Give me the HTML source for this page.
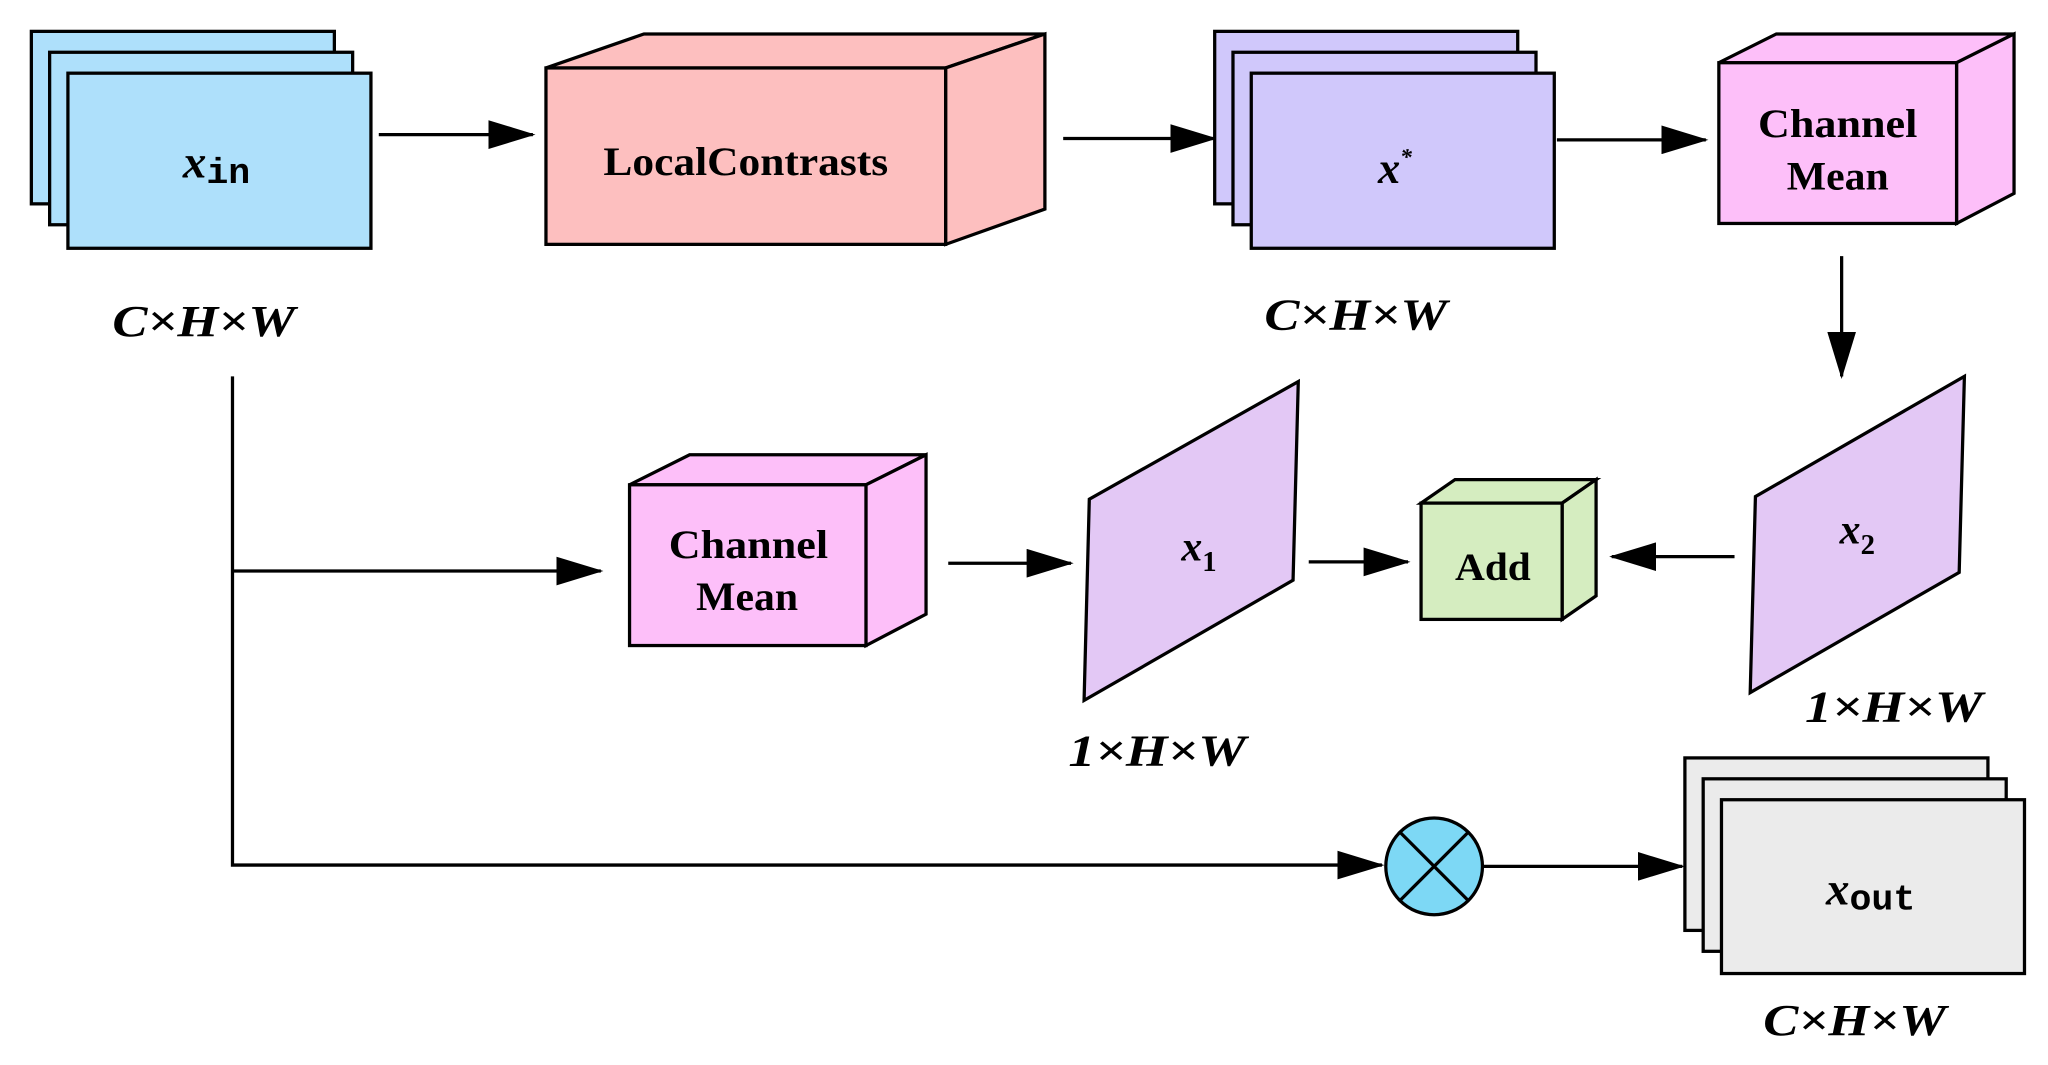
<!DOCTYPE html>
<html><head><meta charset="utf-8"><style>
html,body{margin:0;padding:0;background:#fff;}
svg{display:block;}
text{font-family:"Liberation Serif",serif;font-weight:bold;fill:#000;}
.it{font-style:italic;}
</style></head><body>
<svg width="2048" height="1065" viewBox="0 0 1568 815" preserveAspectRatio="none" xmlns="http://www.w3.org/2000/svg">
<defs>
<marker id="a" markerWidth="36" markerHeight="22" refX="34" refY="11" orient="auto" markerUnits="userSpaceOnUse">
<path d="M0,0 L36,11 L0,22 Z" fill="#000"/></marker>
</defs>
<g stroke="#000" stroke-width="2.5">
<rect x="24" y="24" width="232" height="132" fill="#aee0fb"/>
<rect x="38" y="40" width="232" height="132" fill="#aee0fb"/>
<rect x="52" y="56" width="232" height="134" fill="#aee0fb"/>
<line x1="290" y1="103" x2="408" y2="103" marker-end="url(#a)"/>
<polygon points="418,52 493,26 800,26 724,52" fill="#fdbfbf"/>
<polygon points="724,52 800,26 800,160 724,187" fill="#fdbfbf"/>
<rect x="418" y="52" width="306" height="135" fill="#fdbfbf"/>
<line x1="814" y1="106" x2="930" y2="106" marker-end="url(#a)"/>
<rect x="930" y="24" width="232" height="132" fill="#d0c8fb"/>
<rect x="944" y="40" width="232" height="132" fill="#d0c8fb"/>
<rect x="958" y="56" width="232" height="134" fill="#d0c8fb"/>
<line x1="1192" y1="107" x2="1306" y2="107" marker-end="url(#a)"/>
<polygon points="1316,48 1360,26 1542,26 1498,48" fill="#fdbff9"/>
<polygon points="1498,48 1542,26 1542,148 1498,171" fill="#fdbff9"/>
<rect x="1316" y="48" width="182" height="123" fill="#fdbff9"/>
<line x1="1410" y1="196" x2="1410" y2="288" marker-end="url(#a)"/>
<polygon points="1344,380 1504,288 1500,438 1340,530" fill="#e3c8f5"/>
<line x1="1328" y1="426" x2="1234" y2="426" marker-end="url(#a)"/>
<polygon points="1088,385 1114,367 1222,367 1196,385" fill="#d5edc0"/>
<polygon points="1196,385 1222,367 1222,456 1196,474" fill="#d5edc0"/>
<rect x="1088" y="385" width="108" height="89" fill="#d5edc0"/>
<line x1="1002" y1="430" x2="1078" y2="430" marker-end="url(#a)"/>
<polygon points="834,382 994,292 990,444 830,536" fill="#e3c8f5"/>
<line x1="726" y1="431" x2="820" y2="431" marker-end="url(#a)"/>
<polygon points="482,371 528,348 709,348 663,371" fill="#fdbff9"/>
<polygon points="663,371 709,348 709,470 663,494" fill="#fdbff9"/>
<rect x="482" y="371" width="181" height="123" fill="#fdbff9"/>
<polyline points="178,288 178,662 1058,662" fill="none" marker-end="url(#a)"/>
<line x1="178" y1="437" x2="460" y2="437" marker-end="url(#a)"/>
<circle cx="1098" cy="663" r="37" fill="#7dd8f5"/>
<line x1="1072" y1="637" x2="1124" y2="689"/>
<line x1="1124" y1="637" x2="1072" y2="689"/>
<line x1="1136" y1="663" x2="1288" y2="663" marker-end="url(#a)"/>
<rect x="1290" y="580" width="232" height="132" fill="#ebebeb"/>
<rect x="1304" y="596" width="232" height="132" fill="#ebebeb"/>
<rect x="1318" y="612" width="232" height="133" fill="#ebebeb"/>
</g>
<text x="140" y="136" font-size="36"><tspan class="it">x</tspan><tspan font-family="Liberation Mono,monospace" font-size="28" dy="4">in</tspan></text>
<text x="86" y="257" font-size="34" class="it" textLength="140" lengthAdjust="spacingAndGlyphs">C×H×W</text>
<text x="462" y="134" font-size="31" textLength="218" lengthAdjust="spacingAndGlyphs">LocalContrasts</text>
<text x="1068" y="140" font-size="34" text-anchor="middle" class="it">x<tspan font-size="18" dy="-14">*</tspan></text>
<text x="968" y="252" font-size="34" class="it" textLength="140" lengthAdjust="spacingAndGlyphs">C×H×W</text>
<text x="1346" y="105" font-size="31" textLength="122" lengthAdjust="spacingAndGlyphs">Channel</text>
<text x="1368" y="145" font-size="31" textLength="78" lengthAdjust="spacingAndGlyphs">Mean</text>
<text x="1422" y="416" font-size="32" text-anchor="middle" class="it">x<tspan font-size="22" dy="8" font-style="normal">2</tspan></text>
<text x="1382" y="552" font-size="34" class="it" textLength="136" lengthAdjust="spacingAndGlyphs">1×H×W</text>
<text x="1114" y="444" font-size="30" textLength="58" lengthAdjust="spacingAndGlyphs">Add</text>
<text x="918" y="429" font-size="32" text-anchor="middle" class="it">x<tspan font-size="22" dy="8" font-style="normal">1</tspan></text>
<text x="818" y="586" font-size="34" class="it" textLength="136" lengthAdjust="spacingAndGlyphs">1×H×W</text>
<text x="512" y="427" font-size="31" textLength="122" lengthAdjust="spacingAndGlyphs">Channel</text>
<text x="533" y="467" font-size="31" textLength="78" lengthAdjust="spacingAndGlyphs">Mean</text>
<text x="1398" y="692" font-size="36"><tspan class="it">x</tspan><tspan font-family="Liberation Mono,monospace" font-size="28" dy="4">out</tspan></text>
<text x="1350" y="792" font-size="34" class="it" textLength="140" lengthAdjust="spacingAndGlyphs">C×H×W</text>
</svg>
</body></html>
